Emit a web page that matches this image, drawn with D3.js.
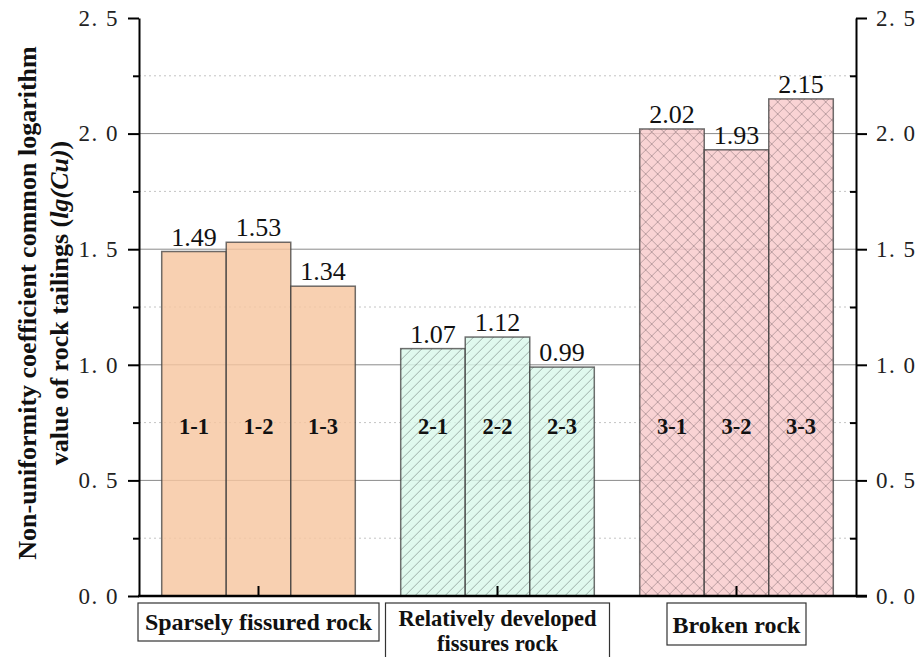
<!DOCTYPE html>
<html>
<head>
<meta charset="utf-8">
<script src="https://cdn.jsdelivr.net/npm/d3@7"></script>
<style>
  html, body { margin: 0; padding: 0; background: #fff; }
  svg { display: block; }
</style>
</head>
<body>
<svg id="chart" width="915" height="657"></svg>
<script>
// Rock tailing groups and their samples
const groups = ["Sparsely fissured rock", "Relatively developed fissures rock", "Broken rock"];
const groupLines = [["Sparsely fissured rock"], ["Relatively developed", "fissures rock"], ["Broken rock"]];
const samples = [["1-1", "1-2", "1-3"], ["2-1", "2-2", "2-3"], ["3-1", "3-2", "3-3"]];
// lg(Cu) for each sample
const values = [[1.49, 1.53, 1.34], [1.07, 1.12, 0.99], [2.02, 1.93, 2.15]];
const yTicks = [0, 0.5, 1.0, 1.5, 2.0, 2.5];
const yMinorTicks = [0.25, 0.75, 1.25, 1.75, 2.25];
const fills = ["#f6c6a0", "#d9f8ea", "#f8c9cb"];

const serif = "'Liberation Serif', 'Times New Roman', serif";
const svg = d3.select("#chart");
const plot = { left: 139, right: 856, top: 18, bottom: 596 };

const x0 = d3.scaleBand().domain(groups).range([plot.left, plot.right]).paddingInner(0.19).paddingOuter(0.095);
const x1 = d3.scaleBand().domain([0, 1, 2]).range([0, x0.bandwidth()]).padding(0);
const y = d3.scaleLinear().domain([0, 2.5]).range([plot.bottom, plot.top]);

// hatch patterns
const defs = svg.append("defs");
const p1 = defs.append("pattern").attr("id", "hatch-diag").attr("patternUnits", "userSpaceOnUse")
  .attr("width", 10).attr("height", 10);
p1.append("rect").attr("width", 10).attr("height", 10).attr("fill", fills[1]);
p1.append("path").attr("d", "M-1,11 L11,-1 M-6,6 L6,-6 M4,16 L16,4")
  .attr("stroke", "#71837c").attr("stroke-width", 0.8);

const p2 = defs.append("pattern").attr("id", "hatch-cross").attr("patternUnits", "userSpaceOnUse")
  .attr("width", 12).attr("height", 12);
p2.append("rect").attr("width", 12).attr("height", 12).attr("fill", fills[2]);
p2.append("path").attr("d", "M-1,13 L13,-1 M-7,7 L7,-7 M5,19 L19,5 M-1,-1 L13,13 M-7,5 L7,19 M5,-7 L19,7")
  .attr("stroke", "#98787c").attr("stroke-width", 0.8);

const fillFor = [fills[0], "url(#hatch-diag)", "url(#hatch-cross)"];

// gridlines (under the bars, which let them show through)
const grid = svg.append("g");
grid.selectAll("line.maj").data(yTicks.filter(t => t > 0 && t < 2.5)).join("line")
  .attr("class", "maj")
  .attr("x1", plot.left).attr("x2", plot.right)
  .attr("y1", d => y(d)).attr("y2", d => y(d))
  .attr("stroke", "#8a8a8a").attr("stroke-width", 1);
grid.selectAll("line.min").data(yMinorTicks).join("line")
  .attr("class", "min")
  .attr("x1", plot.left).attr("x2", plot.right)
  .attr("y1", d => y(d)).attr("y2", d => y(d))
  .attr("stroke", "#c4c4c4").attr("stroke-width", 1).attr("stroke-dasharray", "2,3");

// bars
groups.forEach((g, gi) => {
  const gg = svg.append("g").attr("transform", `translate(${x0(g)},0)`);
  gg.selectAll("rect").data(values[gi]).join("rect")
    .attr("x", (d, i) => x1(i))
    .attr("y", d => y(d))
    .attr("width", x1.bandwidth())
    .attr("height", d => y(0) - y(d))
    .attr("fill", fillFor[gi])
    .attr("fill-opacity", 0.82)
    .attr("stroke", "#3f3f3f")
    .attr("stroke-opacity", 0.75)
    .attr("stroke-width", 1.5);
  gg.selectAll("text.val").data(values[gi]).join("text")
    .attr("class", "val")
    .attr("x", (d, i) => x1(i) + x1.bandwidth() / 2)
    .attr("y", d => y(d) - 6)
    .attr("text-anchor", "middle")
    .attr("font-family", serif)
    .attr("font-size", 26)
    .attr("fill", "#111")
    .text(d => d.toFixed(2));
  gg.selectAll("text.lab").data(samples[gi]).join("text")
    .attr("class", "lab")
    .attr("x", (d, i) => x1(i) + x1.bandwidth() / 2)
    .attr("y", y(0.7))
    .attr("text-anchor", "middle")
    .attr("font-family", serif)
    .attr("font-weight", "bold")
    .attr("font-size", 22.5)
    .attr("fill", "#111")
    .text(d => d);
});

// axes
const tickFmt = d => d3.format(".1f")(d).replace(".", ". ");
function styleAxis(g) {
  g.select(".domain").attr("stroke", "#000").attr("stroke-width", 2);
  g.selectAll(".tick line").attr("stroke", "#000").attr("stroke-width", 2);
  g.selectAll(".tick text").attr("font-family", serif).attr("font-size", 23)
    .attr("fill", "#222").attr("letter-spacing", 1.5);
}
const yLeft = svg.append("g").attr("transform", `translate(${plot.left},0)`)
  .call(d3.axisLeft(y).tickValues(yTicks).tickFormat(tickFmt).tickSize(11).tickSizeOuter(0).tickPadding(9));
styleAxis(yLeft);
const yLeftMinor = svg.append("g").attr("transform", `translate(${plot.left},0)`)
  .call(d3.axisLeft(y).tickValues(yMinorTicks).tickFormat("").tickSize(6).tickSizeOuter(0));
yLeftMinor.select(".domain").remove();
yLeftMinor.selectAll(".tick line").attr("stroke", "#000").attr("stroke-width", 2);

const yRight = svg.append("g").attr("transform", `translate(${plot.right},0)`)
  .call(d3.axisRight(y).tickValues(yTicks).tickFormat(tickFmt).tickSize(11).tickSizeOuter(0).tickPadding(9));
styleAxis(yRight);
const yRightMinor = svg.append("g").attr("transform", `translate(${plot.right},0)`)
  .call(d3.axisLeft(y).tickValues(yMinorTicks).tickFormat("").tickSize(6).tickSizeOuter(0));
yRightMinor.select(".domain").remove();
yRightMinor.selectAll(".tick line").attr("stroke", "#000").attr("stroke-width", 2);

// bottom axis with inward ticks at group centres
const xAxis = svg.append("g").attr("transform", `translate(0,${plot.bottom})`)
  .call(d3.axisBottom(x0).tickSize(-10).tickSizeOuter(0).tickFormat(""));
xAxis.select(".domain").attr("stroke", "#000").attr("stroke-width", 2.5)
  .attr("d", `M${plot.left - 1},0H${plot.right + 11}`);
xAxis.selectAll(".tick line").attr("stroke", "#000").attr("stroke-width", 2);

// category labels in boxes
const boxW = [241, 224, 139];
const boxH = [38, 60, 42];
const boxBase = [[630], [626, 651], [633]];
const boxFont = [24, 22.5, 24];
groups.forEach((g, gi) => {
  const cx = x0(g) + x0.bandwidth() / 2;
  const bx = cx - boxW[gi] / 2;
  svg.append("rect").attr("x", bx).attr("y", 603).attr("width", boxW[gi]).attr("height", boxH[gi])
    .attr("fill", "#fff").attr("stroke", "#333").attr("stroke-width", 1.2);
  groupLines[gi].forEach((ln, li) => {
    svg.append("text").attr("text-anchor", "middle")
      .attr("x", cx).attr("y", boxBase[gi][li])
      .attr("font-family", serif)
      .attr("font-weight", "bold").attr("font-size", boxFont[gi]).attr("fill", "#111")
      .text(ln);
  });
});

// y-axis title
const title = svg.append("text")
  .attr("transform", "translate(36,303) rotate(-90)")
  .attr("text-anchor", "middle")
  .attr("font-family", serif)
  .attr("font-weight", "bold").attr("font-size", 26).attr("fill", "#111");
title.append("tspan").attr("x", 0).attr("y", 0).text("Non-uniformity coefficient common logarithm");
const l2 = title.append("tspan").attr("x", 0).attr("y", 32);
l2.append("tspan").text("value of rock tailings (");
l2.append("tspan").attr("font-style", "italic").text("lg(Cu)");
l2.append("tspan").text(")");
</script>
</body>
</html>
